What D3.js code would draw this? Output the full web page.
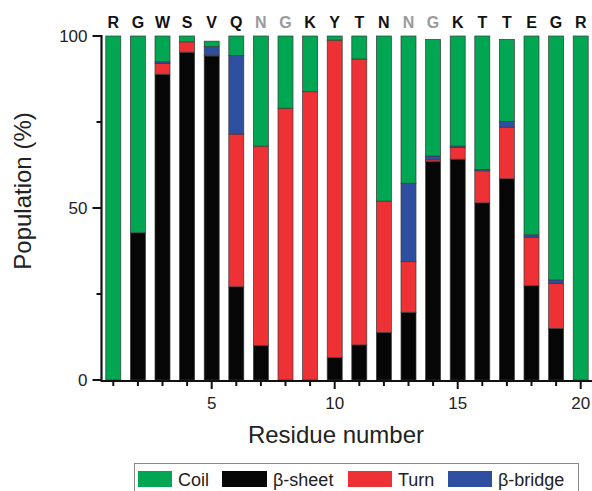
<!DOCTYPE html>
<html>
<head>
<meta charset="utf-8">
<script src="https://cdn.jsdelivr.net/npm/d3@7"></script>
<style>
  body { margin: 0; background: #fff; }
  svg { display: block; font-family: Arial, "Liberation Sans", sans-serif; }
</style>
</head>
<body>
<div id="chart"></div>
<script>
// residue sequence shown above the bars
const residues = ["R","G","W","S","V","Q","N","G","K","Y","T","N","N","G","K","T","T","E","G","R"];
const greyed = [7, 8, 13, 14];

// population (%) per residue, stacked bottom to top
const sheet  = [0, 42.8, 88.9, 95.3, 94.2, 27.1, 10.0, 0, 0, 6.5, 10.2, 13.8, 19.7, 63.5, 64.2, 51.5, 58.5, 27.4, 15.0, 0];
const turn   = [0, 0, 3.1, 3.0, 0.3, 44.4, 58.0, 79.0, 83.8, 92.3, 83.1, 38.2, 14.7, 0.5, 3.4, 9.3, 15.0, 14.1, 13.1, 0];
const bridge = [0, 0, 0.5, 0, 2.4, 22.8, 0, 0, 0, 0, 0, 0, 22.8, 1.1, 0.4, 0.4, 1.7, 0.7, 1.0, 0];
const coil   = [100, 57.2, 7.5, 1.7, 1.6, 5.7, 32.0, 21.0, 16.2, 1.2, 6.7, 48.0, 42.8, 33.9, 32.0, 38.8, 23.8, 57.8, 70.9, 100];

const yTicks = [0, 25, 50, 75, 100];
const yLabels = [0, 50, 100];
const xLabels = [5, 10, 15, 20];

const keys = ["sheet", "turn", "bridge", "coil"];
const colors = {coil: "#00a651", sheet: "#060606", turn: "#ee3134", bridge: "#2e4fa0"};
const legendItems = [
  {key: "coil", label: "Coil"},
  {key: "sheet", label: "β-sheet"},
  {key: "turn", label: "Turn"},
  {key: "bridge", label: "β-bridge"}
];

const data = residues.map((r, i) => ({
  idx: i + 1,
  sheet: sheet[i], turn: turn[i], bridge: bridge[i], coil: coil[i]
}));

const width = 592, height = 491;
const svg = d3.select("#chart").append("svg")
  .attr("width", width)
  .attr("height", height);

const x = d3.scaleLinear().domain([0.5, 20.5]).range([101, 593]);
const y = d3.scaleLinear().domain([0, 100]).range([380, 36]);
const barW = 15;

const stacked = d3.stack().keys(keys)(data);

// bars
svg.append("g")
  .selectAll("g")
  .data(stacked)
  .join("g")
  .attr("fill", d => colors[d.key])
  .selectAll("rect")
  .data(d => d.filter(s => s[1] - s[0] > 0))
  .join("rect")
  .attr("x", d => x(d.data.idx) - barW / 2)
  .attr("y", d => y(d[1]))
  .attr("width", barW)
  .attr("height", d => y(d[0]) - y(d[1]))
  .attr("stroke", "#3a3a3a")
  .attr("stroke-width", 0.7);

// y axis
const yAxis = svg.append("g").attr("transform", "translate(101.5,0)");
yAxis.append("line")
  .attr("y1", y(100) - 1).attr("y2", y(0) + 1)
  .attr("stroke", "#111").attr("stroke-width", 2.2);
yAxis.selectAll(".tick")
  .data(yTicks)
  .join("line")
  .attr("x1", d => yLabels.includes(d) ? -9 : -5)
  .attr("x2", 0)
  .attr("y1", d => y(d)).attr("y2", d => y(d))
  .attr("stroke", "#111").attr("stroke-width", 2);
yAxis.selectAll("text")
  .data(yLabels)
  .join("text")
  .attr("x", -14)
  .attr("y", d => y(d))
  .attr("dy", "0.36em")
  .attr("text-anchor", "end")
  .attr("font-size", 17)
  .attr("fill", "#222")
  .text(d => d);

// x axis
const xAxis = svg.append("g").attr("transform", "translate(0,381)");
xAxis.append("line")
  .attr("x1", 100.5).attr("x2", 592)
  .attr("stroke", "#111").attr("stroke-width", 2.2);
xAxis.selectAll("line.tick")
  .data(d3.range(1, 21))
  .join("line")
  .attr("class", "tick")
  .attr("x1", d => x(d)).attr("x2", d => x(d))
  .attr("y1", 0)
  .attr("y2", d => xLabels.includes(d) ? 8 : 5)
  .attr("stroke", "#111").attr("stroke-width", 2);
xAxis.selectAll("text")
  .data(xLabels)
  .join("text")
  .attr("x", d => x(d))
  .attr("y", 28)
  .attr("text-anchor", "middle")
  .attr("font-size", 17)
  .attr("fill", "#222")
  .text(d => d);

// axis titles
svg.append("text")
  .attr("x", 336)
  .attr("y", 443)
  .attr("text-anchor", "middle")
  .attr("font-size", 24)
  .attr("fill", "#222")
  .text("Residue number");

svg.append("text")
  .attr("transform", "translate(31,191) rotate(-90)")
  .attr("text-anchor", "middle")
  .attr("font-size", 24)
  .attr("fill", "#222")
  .text("Population (%)");

// sequence letters
svg.append("g")
  .selectAll("text")
  .data(residues)
  .join("text")
  .attr("x", (d, i) => x(i + 1))
  .attr("y", 28)
  .attr("text-anchor", "middle")
  .attr("font-size", 16)
  .attr("font-weight", "bold")
  .attr("fill", (d, i) => greyed.includes(i + 1) ? "#9a9a9a" : "#111")
  .text(d => d);

// legend
const legend = svg.append("g");
legend.append("rect")
  .attr("x", 134.5).attr("y", 463.5)
  .attr("width", 444).attr("height", 40)
  .attr("fill", "#fff")
  .attr("stroke", "#888").attr("stroke-width", 1);
const swatchX = [138, 222, 348, 448];
const swatchW = [34, 45, 44, 44];
legendItems.forEach((item, i) => {
  legend.append("rect")
    .attr("x", swatchX[i]).attr("y", 471)
    .attr("width", swatchW[i]).attr("height", 16)
    .attr("fill", colors[item.key]);
  legend.append("text")
    .attr("x", swatchX[i] + swatchW[i] + 6)
    .attr("y", 486)
    .attr("font-size", 18)
    .attr("fill", "#222")
    .text(item.label);
});
</script>
</body>
</html>
